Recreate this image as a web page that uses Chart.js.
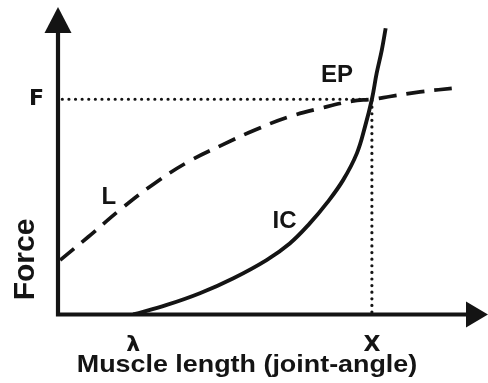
<!DOCTYPE html>
<html>
<head>
<meta charset="utf-8">
<script src="https://cdn.jsdelivr.net/npm/chart.js@4/dist/chart.umd.min.js"></script>
<style>
  html, body { margin: 0; padding: 0; background: #fff; }
  #wrap { width: 488px; height: 383px; position: relative; }
</style>
</head>
<body>
<div id="wrap"><canvas id="c"></canvas></div>
<script>
// Muscle length (x) and force (y), both on a 0–100 schematic scale.
const lambdaLength = 17.5;      // threshold length λ
const equilibriumLength = 73;   // equilibrium length X
const equilibriumForce = 70;    // equilibrium force F

const lengthTicks = [lambdaLength, equilibriumLength];
const lengthTickLabels = ['λ', 'X'];
const forceTicks = [equilibriumForce];
const forceTickLabels = ['F'];

// Load characteristic L (dashed)
const loadLength = [0.5, 7.0, 14.9, 22.6, 30.2, 38.1, 45.8, 53.5, 61.4, 68.4, 73.0, 77.2, 84.2, 92.8];
const loadForce  = [17.7, 25.2, 34.6, 42.8, 49.6, 55.1, 60.0, 64.2, 67.2, 69.4, 70.0, 70.9, 72.4, 73.7];

// Invariant characteristic IC (solid)
const icLength = [17.5, 25.3, 33.0, 40.8, 48.5, 53.9, 58.6, 62.5, 66.3, 69.5, 71.4, 73.0, 74.1, 75.3, 76.2];
const icForce  = [0, 3.1, 6.9, 11.8, 17.7, 23.1, 29.7, 36.2, 43.7, 52.4, 61.1, 70.0, 78.4, 86.0, 93.1];

// Curve names, placed in data units
const curveLabels = [
  { text: 'EP', x: 64.9, y: 77.7 },
  { text: 'L',  x: 11.8, y: 38.2 },
  { text: 'IC', x: 52.7, y: 30.4 }
];

const xTitle = 'Muscle length (joint-angle)';
const yTitle = 'Force';

const INK = '#141414';
const TICK_FONT = "'DejaVu Sans', sans-serif";
const TEXT_FONT = "'Liberation Sans', Arial, sans-serif";

const toPoints = (xs, ys) => xs.map((x, i) => ({ x, y: ys[i] }));

// Axis lines with arrowheads, titles and curve names
const diagramPlugin = {
  id: 'diagram',
  afterDatasetsDraw(chart) {
    const { ctx, chartArea, scales: { x, y } } = chart;
    const x0 = x.getPixelForValue(0);
    const y0 = y.getPixelForValue(0);
    const xEnd = chartArea.right;
    const yEnd = chartArea.top;
    ctx.save();
    ctx.strokeStyle = INK;
    ctx.fillStyle = INK;
    ctx.lineWidth = 4.2;
    ctx.lineCap = 'butt';
    ctx.beginPath();
    ctx.moveTo(x0, yEnd + 24);
    ctx.lineTo(x0, y0);
    ctx.lineTo(xEnd - 20, y0);
    ctx.stroke();
    // up arrow
    ctx.beginPath();
    ctx.moveTo(x0, yEnd);
    ctx.lineTo(x0 - 13.5, yEnd + 26);
    ctx.lineTo(x0 + 13.5, yEnd + 26);
    ctx.closePath();
    ctx.fill();
    // right arrow
    ctx.beginPath();
    ctx.moveTo(xEnd, y0);
    ctx.lineTo(xEnd - 22, y0 - 13);
    ctx.lineTo(xEnd - 22, y0 + 13);
    ctx.closePath();
    ctx.fill();

    // curve names
    ctx.font = "bold 24px " + TEXT_FONT;
    ctx.textAlign = 'center';
    ctx.textBaseline = 'middle';
    curveLabels.forEach(l => {
      ctx.fillText(l.text, x.getPixelForValue(l.x), y.getPixelForValue(l.y));
    });

    // axis titles
    ctx.textBaseline = 'alphabetic';
    ctx.save();
    ctx.translate(247, 372);
    ctx.scale(1.12, 1);
    ctx.font = "bold 24px " + TEXT_FONT;
    ctx.fillText(xTitle, 0, 0);
    ctx.restore();

    ctx.save();
    ctx.translate(34, 259.5);
    ctx.rotate(-Math.PI / 2);
    ctx.font = "bold 30px " + TEXT_FONT;
    ctx.fillText(yTitle, 0, 0);
    ctx.restore();
    ctx.restore();
  }
};

new Chart(document.getElementById('c'), {
  type: 'scatter',
  data: {
    datasets: [
      {
        data: [{ x: 1, y: equilibriumForce }, { x: equilibriumLength, y: equilibriumForce }],
        showLine: true, borderColor: INK, borderWidth: 3.2,
        borderDash: [0.01, 6.6], borderCapStyle: 'round', pointRadius: 0
      },
      {
        data: [{ x: equilibriumLength, y: 0.8 }, { x: equilibriumLength, y: equilibriumForce }],
        showLine: true, borderColor: INK, borderWidth: 3.2,
        borderDash: [0.01, 6.6], borderCapStyle: 'round', pointRadius: 0
      },
      {
        data: toPoints(loadLength, loadForce),
        showLine: true, borderColor: INK, borderWidth: 3.7,
        borderDash: [18, 10], tension: 0.4, pointRadius: 0
      },
      {
        data: toPoints(icLength, icForce),
        showLine: true, borderColor: INK, borderWidth: 3.9,
        tension: 0.4, pointRadius: 0
      }
    ]
  },
  options: {
    responsive: true,
    maintainAspectRatio: false,
    animation: false,
    events: [],
    layout: { padding: { top: 7, right: 0, bottom: 0, left: 0 } },
    plugins: { legend: { display: false }, tooltip: { enabled: false } },
    scales: {
      x: {
        type: 'linear', min: 0, max: 100,
        grid: { display: false, drawTicks: false },
        border: { display: false },
        afterBuildTicks: s => { s.ticks = lengthTicks.map(v => ({ value: v })); },
        afterFit: s => { s.height = 68.5; s.paddingLeft = 0; s.paddingRight = 0; },
        ticks: {
          autoSkip: false, maxRotation: 0, padding: 18, color: INK,
          font: { family: TICK_FONT, weight: 'bold', size: 22 },
          callback: (v, i) => lengthTickLabels[i]
        }
      },
      y: {
        type: 'linear', min: 0, max: 100,
        grid: { display: false, drawTicks: false },
        border: { display: false },
        afterBuildTicks: s => { s.ticks = forceTicks.map(v => ({ value: v })); },
        afterFit: s => { s.width = 58; s.paddingTop = 0; s.paddingBottom = 0; },
        ticks: {
          autoSkip: false, padding: 14, color: INK,
          font: { family: TICK_FONT, weight: 'bold', size: 22 },
          callback: (v, i) => forceTickLabels[i]
        }
      }
    }
  },
  plugins: [diagramPlugin]
});
</script>
</body>
</html>
